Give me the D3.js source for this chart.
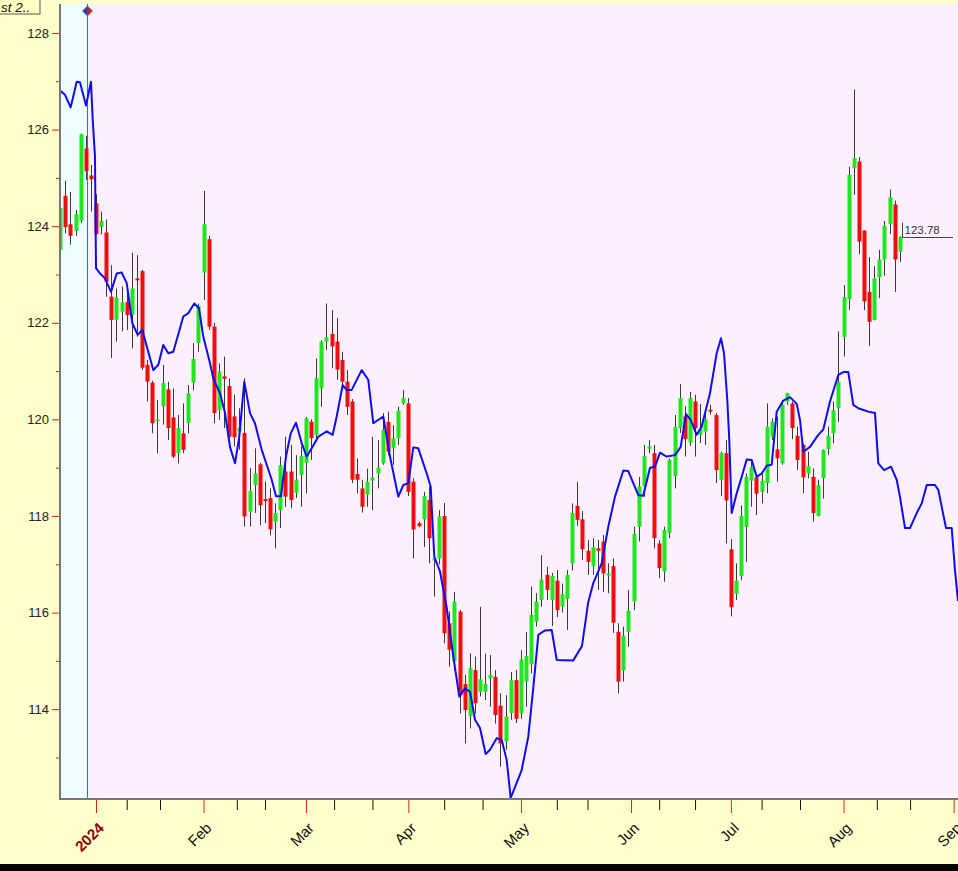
<!DOCTYPE html>
<html><head><meta charset="utf-8">
<script src="https://cdnjs.cloudflare.com/ajax/libs/d3/7.8.5/d3.min.js"></script>
<style>html,body{margin:0;padding:0;background:#ffffcc;overflow:hidden}</style>
</head><body><svg id="c" width="958" height="871"></svg>
<script>
// ---- data (trading-day index: 0 = 2 Jan 2024) ----
const firstDay = -7;
const opens = [123.51,124.63,124.04,123.90,124.11,125.61,125.05,124.47,123.98,123.87,122.54,122.06,122.23,122.43,122.16,122.92,123.07,121.13,120.76,119.97,120.27,120.62,120.04,119.30,119.71,119.92,120.76,121.58,123.04,123.73,121.92,120.19,120.89,120.69,120.06,119.75,119.72,118.09,118.64,119.07,118.35,118.37,117.88,118.12,118.92,118.92,118.48,118.85,119.10,119.95,119.68,120.64,121.61,121.77,121.61,121.23,120.78,120.37,118.87,118.57,118.44,118.73,118.88,119.09,119.95,119.40,119.61,120.33,120.33,118.71,117.85,117.93,118.33,117.09,117.12,118.00,115.78,114.99,116.02,114.52,113.86,114.81,114.36,114.36,114.64,114.67,114.07,113.33,113.92,114.60,113.91,114.57,114.93,115.81,116.26,116.78,116.26,116.66,116.12,116.28,117.02,118.21,117.93,117.28,116.96,117.33,117.47,116.78,116.96,115.60,114.80,115.60,116.23,117.78,118.62,119.39,119.30,117.43,116.85,117.65,118.83,119.82,120.06,119.52,120.37,119.68,119.75,120.20,120.09,118.75,119.30,117.31,116.39,116.76,117.77,118.73,118.80,118.50,118.68,119.64,119.38,119.09,120.37,120.33,119.66,119.47,118.88,118.81,118.00,118.78,119.38,119.71,120.23,121.71,122.49,125.20,125.34,123.91,122.64,122.06,122.94,123.31,124.04,124.45,123.47];
const highs = [124.73,124.94,124.71,124.34,125.92,125.87,125.27,124.66,124.30,124.14,123.19,122.71,122.75,122.64,123.45,123.40,123.10,121.23,120.80,120.40,121.13,120.78,120.64,120.09,120.33,120.71,121.58,122.40,124.73,123.80,122.00,121.16,121.30,120.85,120.51,120.23,120.85,118.99,119.40,119.10,118.71,118.57,118.26,119.23,119.64,119.47,119.26,119.44,120.05,120.00,121.26,121.64,122.40,122.26,122.10,121.40,121.02,120.42,119.19,118.75,118.98,119.64,119.57,120.13,120.16,119.88,120.26,120.61,120.44,118.78,117.88,118.50,118.61,117.30,118.12,118.27,116.02,116.43,116.05,114.71,115.16,115.09,116.12,115.15,115.12,114.81,114.33,114.29,114.77,114.81,115.22,115.60,116.54,116.40,117.19,116.95,116.82,116.88,116.60,116.88,118.26,118.71,118.10,117.50,117.54,117.50,117.61,117.02,117.12,115.78,115.71,116.47,117.78,118.81,119.47,119.57,119.47,117.50,117.78,119.19,120.09,120.73,120.27,120.57,120.51,120.32,120.19,120.30,120.13,119.33,119.57,117.52,117.02,118.22,118.88,119.12,118.87,118.88,120.33,120.02,120.06,120.40,120.55,120.37,119.85,119.50,119.33,118.99,118.75,119.38,119.85,120.37,121.82,122.78,125.23,126.83,125.43,123.92,123.36,123.17,123.51,124.11,124.76,124.53,123.79];
const lows = [123.45,123.85,123.62,123.80,124.06,124.96,124.30,123.82,123.83,122.54,121.27,121.61,121.82,121.85,121.47,121.71,121.02,120.37,119.71,119.30,119.89,119.57,119.20,119.09,119.30,119.71,120.60,121.40,122.47,121.85,119.92,119.99,119.82,119.44,119.44,119.37,117.78,117.78,118.06,117.81,117.85,117.60,117.33,117.75,118.19,118.16,118.37,118.19,118.47,119.16,119.60,120.26,121.44,121.06,120.82,120.60,120.09,118.68,118.47,118.07,118.19,118.12,118.57,119.06,119.26,119.06,119.47,120.30,118.41,117.12,117.77,117.36,117.02,116.33,117.00,115.36,114.88,114.80,113.91,113.29,113.60,113.91,114.26,114.19,114.05,113.70,112.81,113.16,113.78,113.71,113.80,114.05,114.74,115.71,116.12,116.26,115.72,115.91,116.00,115.64,116.87,117.80,117.09,116.78,116.78,116.47,116.43,116.40,115.58,114.33,114.57,115.29,116.05,117.47,118.40,119.30,117.33,116.71,116.64,117.54,118.57,119.72,119.23,119.45,119.23,119.51,119.47,120.10,118.68,118.41,117.43,115.92,116.26,116.67,117.05,118.19,118.02,118.26,118.47,119.57,118.71,119.06,120.30,119.59,118.95,118.47,118.78,117.88,117.99,118.36,119.26,119.50,119.95,121.30,122.26,124.65,123.42,122.26,121.52,122.05,122.51,122.97,123.84,122.64,123.26];
const closes = [124.38,123.98,123.80,124.25,125.90,125.14,124.97,123.84,124.11,122.85,122.06,122.52,122.42,122.16,122.71,122.89,121.07,120.78,119.92,120.00,120.75,119.82,119.23,119.82,119.37,120.54,121.25,122.35,124.04,121.92,120.13,120.99,120.84,119.64,119.63,119.83,117.99,118.52,118.88,118.22,118.32,117.72,118.06,119.05,118.40,118.33,118.75,119.24,120.02,119.61,120.85,121.61,121.70,121.51,121.03,120.78,120.26,118.75,118.75,118.19,118.71,118.80,119.00,119.78,119.33,119.61,120.18,120.44,118.50,117.72,117.79,118.41,117.54,117.12,117.99,115.57,115.23,116.23,114.29,113.98,114.85,114.12,114.62,114.52,114.71,113.88,113.29,113.85,114.60,113.80,115.03,115.10,115.95,116.23,116.68,116.47,116.76,116.05,116.38,116.78,118.06,117.92,117.31,117.05,117.35,117.28,116.81,116.81,115.79,114.57,115.52,116.04,117.63,118.61,119.24,119.44,117.54,116.92,117.71,119.16,119.84,120.44,119.59,120.44,119.82,119.80,120.00,120.17,118.95,119.30,118.32,116.11,116.66,118.00,118.81,119.01,118.46,118.73,119.85,119.95,119.19,120.30,120.54,119.82,119.16,118.80,119.03,118.06,118.64,119.37,119.66,120.19,120.78,122.53,125.06,125.41,123.68,122.44,122.02,122.92,123.31,124.01,124.60,123.31,123.78];

const lineDays = [-7.03,-6.05,-4.94,-3.77,-3.13,-1.95,-0.98,-0.64,-0.2,0,0.78,1.76,2.93,4.04,5.02,6.0,7.09,8.14,9.04,11.19,12.17,13.14,14.12,15.1,17.05,18.03,19.2,20.12,20.96,22.27,22.91,24.22,25.2,26.17,27.15,27.99,28.96,30.08,31.05,32.36,34.32,35.16,36.13,37.11,38.03,39.06,40.18,41.15,42.13,43.42,45.06,46.23,47.01,48.18,48.96,49.94,51.89,53.18,54.16,56.11,57.42,59.04,60.02,61.0,61.97,62.95,64.59,65.37,66.07,67.19,68.5,69.79,70.96,72.07,73.05,74.02,75.0,76.11,76.95,78.26,79.24,80.21,80.99,83.14,84.43,85.41,86.39,87.7,89.0,89.98,93.22,94.92,96.15,97.13,98.77,100.06,101.37,102.99,103.96,105.92,106.89,108.2,109.18,110.16,111.46,113.09,114.2,115.23,116.15,117.32,118.3,119.92,121.23,122.07,122.66,123.3,123.69,124.16,125.14,126.11,127.09,128.07,129.04,130.02,131.0,131.97,132.95,134.24,135.55,136.86,137.5,138.14,139.45,141.07,142.05,143.36,144.98,145.96,146.93,147.91,148.89,150.84,152.15,152.79,153.91,155.27,156.39,157.03,158.01,158.98,160.29,161.27,162.25,163.87,164.51,166.02,167.13,167.77,168.36];
const lineValues = [126.81,126.72,126.46,126.99,126.98,126.50,126.99,126.20,125.44,123.13,123.02,122.92,122.64,123.02,123.04,122.82,121.99,121.75,121.85,121.02,121.13,121.54,121.37,121.40,122.13,122.20,122.40,122.30,121.71,121.16,120.85,120.54,120.13,119.43,119.09,119.64,120.78,120.13,119.92,119.37,118.75,118.41,118.41,119.23,119.71,119.93,119.51,119.23,119.40,119.64,119.75,119.68,120.06,120.71,120.61,120.61,121.02,120.82,119.92,120.06,119.23,118.40,118.64,118.68,119.42,119.40,118.88,118.61,117.16,116.85,116.10,115.09,114.26,114.43,114.36,113.78,113.61,113.07,113.16,113.40,113.36,112.95,112.16,112.74,113.43,114.44,115.54,115.63,115.64,115.02,115.01,115.31,116.22,116.61,117.02,117.78,118.40,118.94,118.93,118.43,118.42,119.00,119.02,119.31,119.23,119.26,119.43,120.11,119.99,119.68,119.85,120.54,121.37,121.68,121.37,120.40,119.57,118.06,118.47,118.81,119.17,119.16,118.81,118.88,119.04,119.06,120.16,120.39,120.46,120.32,119.99,119.33,119.43,119.68,119.79,120.37,120.92,120.98,120.98,120.30,120.23,120.16,120.13,119.09,118.95,119.02,118.75,118.39,117.75,117.75,118.06,118.26,118.64,118.64,118.54,117.75,117.75,116.88,116.24];

const yMajorTicks = [114,116,118,120,122,124,126,128];
const yMinorTicks = [113,115,117,119,121,123,125,127];
const monthLabels = ["2024","Feb","Mar","Apr","May","Jun","Jul","Aug","Sep"];
const monthDays = [0,21,41,61,83,104.5,124,146,167.5];
const minorTickDays = [6,12.5,27.5,33,46.5,54,68,75.5,90,96,110,117,130,137.5,152.5,159];
const cursorDay = -1.75;
const cornerText = "st 2..";

// ---- drawing ----
const svg = d3.select("#c");
const W = 958, H = 871;
const plot = {l:60, r:958, t:4, b:799};
const x = d3.scaleLinear().domain([-7.03,168.36]).range([plot.l, plot.r]);
const y = d3.scaleLinear().domain([112.14,128.6]).range([plot.b, plot.t]);
const FONT = "Liberation Sans, Arial, sans-serif";

svg.append("rect").attr("width",W).attr("height",H).attr("fill","#ffffcc");
svg.append("rect").attr("x",plot.l).attr("y",plot.t).attr("width",plot.r-plot.l).attr("height",plot.b-plot.t).attr("fill","#fdf0fd");
svg.append("rect").attr("x",plot.l).attr("y",plot.t).attr("width",x(cursorDay)-plot.l).attr("height",plot.b-plot.t).attr("fill","#f0fdff");

svg.append("defs").append("clipPath").attr("id","clip").append("rect")
  .attr("x",plot.l+1).attr("y",plot.t).attr("width",plot.r-plot.l).attr("height",plot.b-plot.t-1);

const candles = opens.map((o,k)=>({d:firstDay+k,o,h:highs[k],l:lows[k],c:closes[k]}));
const g = svg.append("g").attr("clip-path","url(#clip)");

// cursor line
g.append("line").attr("x1",Math.round(x(cursorDay))+0.5).attr("x2",Math.round(x(cursorDay))+0.5)
  .attr("y1",plot.t).attr("y2",plot.b).attr("stroke","#118c8c").attr("stroke-width",1);

const cg = g.append("g");
cg.selectAll("line.w").data(candles).join("line").attr("class","w")
  .attr("x1",d=>Math.round(x(d.d))+0.5).attr("x2",d=>Math.round(x(d.d))+0.5)
  .attr("y1",d=>y(d.h)).attr("y2",d=>y(d.l)).attr("stroke","#3a3a3a").attr("stroke-width",1);
cg.selectAll("rect.b").data(candles).join("rect").attr("class","b")
  .attr("x",d=>Math.round(x(d.d))-1.5).attr("width",4)
  .attr("y",d=>y(Math.max(d.o,d.c))).attr("height",d=>Math.max(2,Math.abs(y(d.o)-y(d.c))))
  .attr("fill",d=>d.c>=d.o?"#1fe61f":"#f20d0d");

// blue line
const pts = lineDays.map((d,k)=>[d,lineValues[k]]);
g.append("path").datum(pts).attr("fill","none").attr("stroke","#0c0cf5").attr("stroke-width",2)
  .attr("stroke-linejoin","round").attr("d",d3.line().x(d=>x(d[0])).y(d=>y(d[1])));

// last price marker
const lastC = candles[candles.length-1];
const lx = Math.round(x(lastC.d))+2.5, ly = Math.round(y(lastC.c))+0.5;
svg.append("line").attr("x1",lx).attr("x2",lx).attr("y1",ly-15).attr("y2",ly).attr("stroke","#444");
svg.append("line").attr("x1",lx).attr("x2",953).attr("y1",ly).attr("y2",ly).attr("stroke","#444");
svg.append("text").attr("x",lx+2).attr("y",ly-3.5).text(lastC.c.toFixed(2))
  .attr("font-family",FONT).attr("font-size",11.5).attr("fill","#333");

// y axis
const yAx = svg.append("g").attr("transform",`translate(${plot.l},0)`)
  .call(d3.axisLeft(y).tickValues(yMajorTicks).tickSize(8).tickPadding(3).tickSizeOuter(0).tickFormat(d3.format("d")));
yAx.select(".domain").remove();
yAx.selectAll(".tick line").attr("stroke","#d42020");
yAx.selectAll("text").attr("font-family",FONT).attr("font-size",13).attr("fill","#222");
const yMin = svg.append("g").attr("transform",`translate(${plot.l},0)`)
  .call(d3.axisLeft(y).tickValues(yMinorTicks).tickSize(4).tickFormat(""));
yMin.select(".domain").remove();
yMin.selectAll(".tick line").attr("stroke","#d42020");

// x axis ticks
const xMaj = svg.append("g").attr("transform",`translate(0,${plot.b+1})`)
  .call(d3.axisBottom(x).tickValues(monthDays).tickSize(13).tickSizeOuter(0).tickFormat(""));
xMaj.select(".domain").remove();
xMaj.selectAll(".tick line").attr("stroke","#e02020");
const xMin = svg.append("g").attr("transform",`translate(0,${plot.b+1})`)
  .call(d3.axisBottom(x).tickValues(minorTickDays).tickSize(10).tickSizeOuter(0).tickFormat(""));
xMin.select(".domain").remove();
xMin.selectAll(".tick line").attr("stroke","#111");

// frame lines
svg.append("line").attr("x1",plot.l).attr("x2",plot.l).attr("y1",plot.t).attr("y2",plot.b+1).attr("stroke","#777").attr("stroke-width",2);
svg.append("line").attr("x1",plot.l-1).attr("x2",plot.r).attr("y1",plot.b).attr("y2",plot.b).attr("stroke","#777").attr("stroke-width",2);

// month labels
svg.append("g").selectAll("text").data(monthLabels).join("text")
  .attr("transform",(d,k)=>`translate(${x(monthDays[k])+9},829) rotate(-45)`)
  .attr("text-anchor","end")
  .attr("font-family",FONT).attr("font-size",15)
  .attr("font-weight",(d,k)=>k===0?"bold":"normal")
  .attr("fill",(d,k)=>k===0?"#8b0000":"#111")
  .text(d=>d);

// corner label
svg.append("rect").attr("x",-1).attr("y",-1).attr("width",41).attr("height",15).attr("fill","#ffffc4").attr("stroke","#555");
svg.append("text").attr("x",1).attr("y",11.5).text(cornerText).attr("font-family",FONT)
  .attr("font-size",13.5).attr("font-style","italic").attr("fill","#111");

// cursor diamond
const cx = Math.round(x(cursorDay))+0.5, cy = 11;
svg.append("path").attr("d",`M${cx-5},${cy}L${cx},${cy-5}L${cx},${cy+5}Z`).attr("fill","#1a3cc8");
svg.append("path").attr("d",`M${cx+5},${cy}L${cx},${cy-5}L${cx},${cy+5}Z`).attr("fill","#e01818");
svg.append("path").attr("d",`M${cx-5},${cy}L${cx},${cy-5}L${cx+5},${cy}L${cx},${cy+5}Z`).attr("fill","none").attr("stroke","#118c8c").attr("stroke-width",0.8);

// bottom dark strip
svg.append("rect").attr("x",0).attr("y",864).attr("width",W).attr("height",H-864).attr("fill","#050505");
</script></body></html>
